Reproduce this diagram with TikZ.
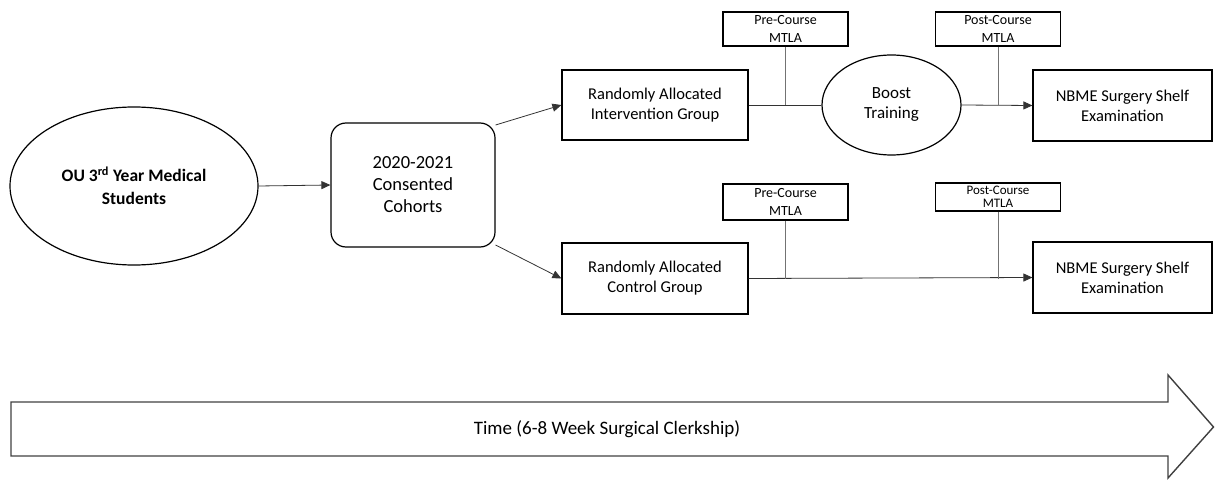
\documentclass[tikz,border=0pt]{standalone}
\usepackage{fontspec}
\setmainfont{Carlito}
\usetikzlibrary{arrows.meta,shapes.geometric,calc}

\tikzset{
  boxline/.style={draw=black, line width=1.2pt},
  stagebox/.style={boxline, rectangle, inner sep=0pt, align=center,
    font=\fontsize{16.5}{20}\selectfont},
  testbox/.style={boxline, rectangle, inner sep=0pt, align=center,
    minimum width=125pt, font=\fontsize{14}{18}\selectfont},
  oval/.style={boxline, ellipse, inner sep=0pt, align=center},
  link/.style={draw=black!80, line width=0.8pt},
  tap/.style={draw=black!55, line width=0.8pt},
  flow/.style={link, -{Triangle[length=9pt,width=8pt]}},
}

\begin{document}
\begin{tikzpicture}[x=1pt, y=-1pt]
\useasboundingbox (0,0) rectangle (1215,481);

% entry population and consent
\node[oval, minimum width=248pt, minimum height=158pt,
      font=\bfseries\fontsize{17.5}{23}\selectfont]
  (ou) at (134,186) {OU 3\textsuperscript{rd} Year Medical\\Students};
\node[stagebox, rounded corners=15pt, minimum width=164pt, minimum height=124pt,
      font=\fontsize{18.5}{22}\selectfont]
  (coh) at (413,185) {2020-2021\\Consented\\Cohorts};

% intervention arm
\node[stagebox, minimum width=186pt, minimum height=70pt]
  (int) at (655,105) {Randomly Allocated\\Intervention Group};
\node[testbox, minimum height=34pt] (pre1) at (785.5,29) {Pre-Course\\MTLA};
\node[oval, minimum width=139pt, minimum height=100pt,
      font=\fontsize{17}{20}\selectfont]
  (boost) at (891.5,105) {Boost\\Training};
\node[testbox, minimum height=34pt] (post1) at (998,29) {Post-Course\\MTLA};
\node[stagebox, minimum width=179pt, minimum height=71pt]
  (nbme1) at (1122.5,105.5) {NBME Surgery Shelf\\Examination};

% control arm
\node[stagebox, minimum width=186pt, minimum height=71pt]
  (ctl) at (655,278.5) {Randomly Allocated\\Control Group};
\node[testbox, minimum height=36pt] (pre2) at (785.5,202) {Pre-Course\\MTLA};
\node[testbox, minimum height=28pt, font=\fontsize{13}{12.5}\selectfont]
  (post2) at (998,197) {Post-Course\\MTLA};
\node[stagebox, minimum width=179pt, minimum height=71pt]
  (nbme2) at (1122.5,277.5) {NBME Surgery Shelf\\Examination};

% connectors
\draw[flow] (ou.east) -- (coh.west);
\draw[flow] (coh.36) -- (int.west);
\draw[flow] (coh.-36) -- (ctl.west);

\draw[link] (int.east) -- (boost.west);
\draw[flow] (boost.east) -- (nbme1.west);
\draw[tap] (pre1.south) -- (pre1.south |- int.east);
\draw[tap] (post1.south) -- (post1.south |- boost.east);

\draw[flow] (ctl.east) -- (nbme2.west);
\draw[tap] (pre2.south) -- (pre2.south |- ctl.east);
\draw[tap] (post2.south) -- (post2.south |- ctl.east);

% time line
\draw[draw=black!75, line width=1.4pt, line join=miter]
  (11,402) -- (1168,402) -- (1168,375) -- (1213.5,427) -- (1168,478)
  -- (1168,456) -- (11,456) -- cycle;
\node[font=\fontsize{19}{22}\selectfont] (time) at (607,429)
  {Time (6-8 Week Surgical Clerkship)};
\end{tikzpicture}
\end{document}
